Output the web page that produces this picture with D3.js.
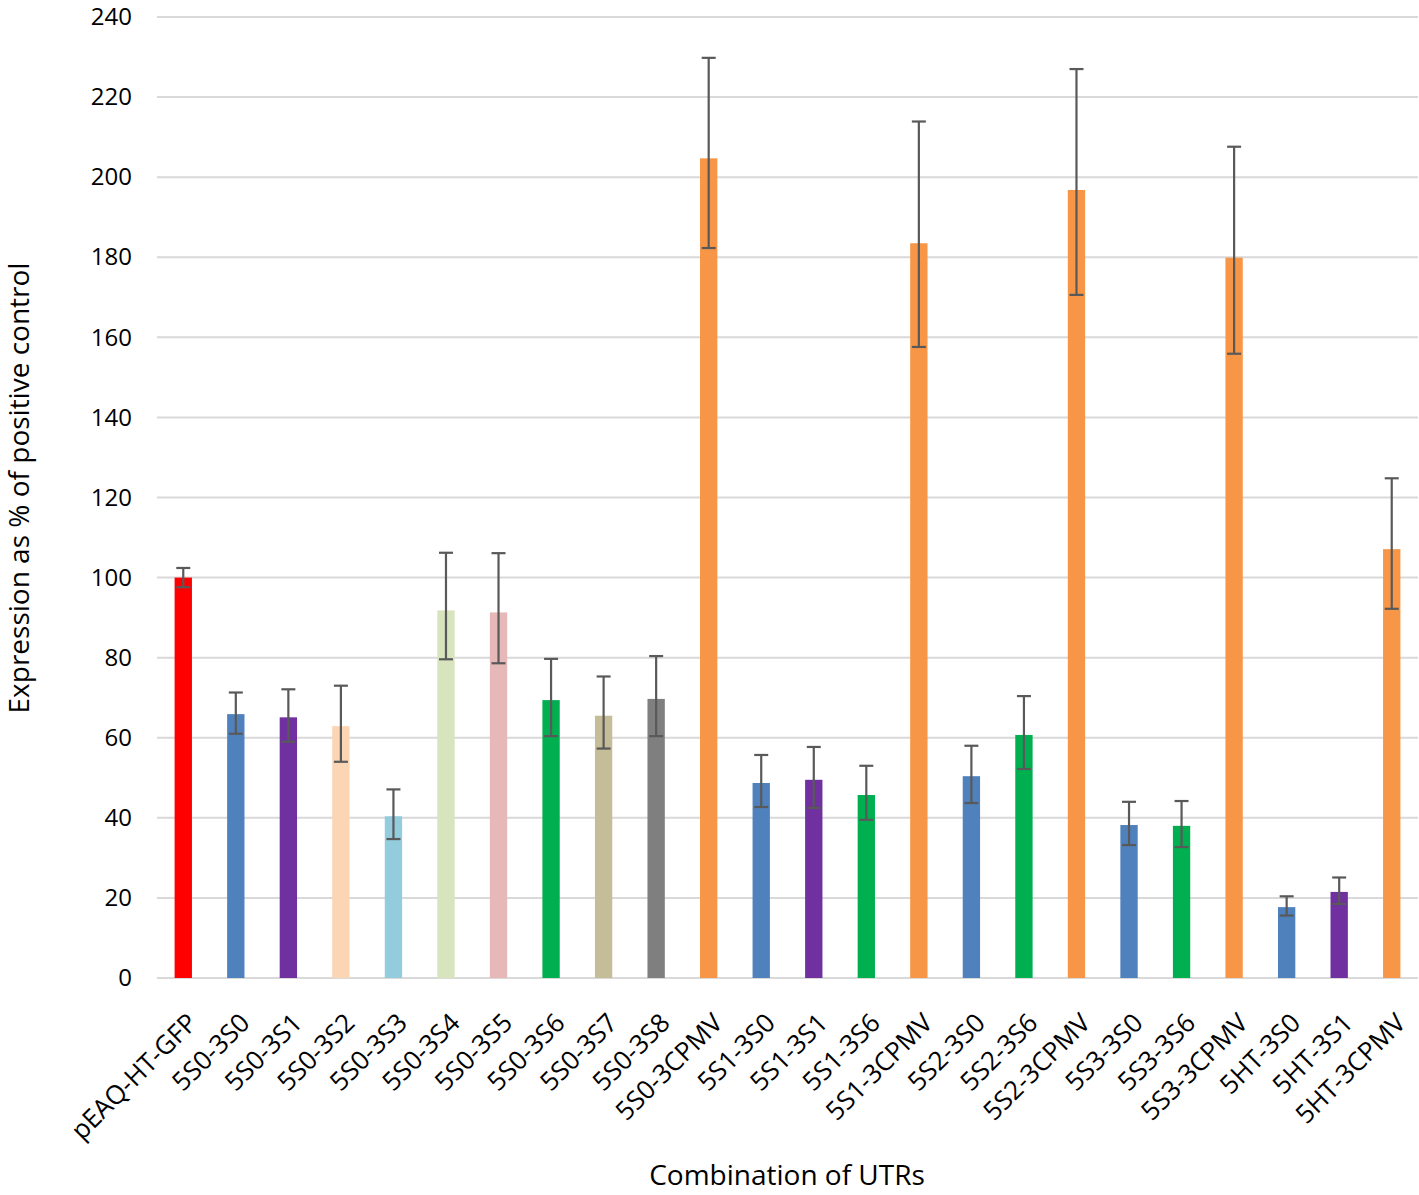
<html>
  <head>
    <script src="https://cdn.jsdelivr.net/npm/d3@7"></script>
    <style>
      body { margin: 0; background: #fff; }
      text { font-family: "Open Sans", sans-serif; fill: #000; }
    </style>
  </head>
  <body>
    <script>
      const categories = ["pEAQ-HT-GFP", "5S0-3S0", "5S0-3S1", "5S0-3S2", "5S0-3S3", "5S0-3S4",
        "5S0-3S5", "5S0-3S6", "5S0-3S7", "5S0-3S8", "5S0-3CPMV", "5S1-3S0", "5S1-3S1", "5S1-3S6",
        "5S1-3CPMV", "5S2-3S0", "5S2-3S6", "5S2-3CPMV", "5S3-3S0", "5S3-3S6", "5S3-3CPMV",
        "5HT-3S0", "5HT-3S1", "5HT-3CPMV"];
      const values = [100, 65.9, 65.1, 62.9, 40.4, 91.8, 91.3, 69.4, 65.5, 69.7, 204.7, 48.7, 49.5, 45.7,
        183.5, 50.4, 60.7, 196.8, 38.2, 38, 179.9, 17.7, 21.5, 107.1];
      // error bars above and below each bar
      const errUp = [2.4, 5.4, 7, 10.1, 6.7, 14.4, 14.8, 10.3, 9.8, 10.7, 25.1, 7, 8.2, 7.3,
        30.4, 7.6, 9.7, 30.2, 5.8, 6.2, 27.7, 2.7, 3.6, 17.7];
      const errDown = [2.4, 4.9, 6.1, 8.9, 5.7, 12.2, 12.7, 9, 8.2, 9.3, 22.4, 6, 7, 6.2,
        25.9, 6.7, 8.5, 26.2, 5, 5.3, 24, 2.1, 3, 14.9];
      const colors = ["#FF0000", "#4F81BD", "#7030A0", "#FCD5B5", "#93CDDD", "#D7E4BD", "#E6B9B8",
        "#00B050", "#C4BD97", "#7F7F7F", "#F79646", "#4F81BD", "#7030A0", "#00B050", "#F79646",
        "#4F81BD", "#00B050", "#F79646", "#4F81BD", "#00B050", "#F79646", "#4F81BD", "#7030A0",
        "#F79646"];
      const yTicks = d3.range(0, 241, 20);

      const width = 1419, height = 1195;
      const plotLeft = 157, plotRight = 1418, plotTop = 17, plotBottom = 978;

      const svg = d3.select("body").append("svg")
          .attr("width", width)
          .attr("height", height);

      const x = d3.scaleBand()
          .domain(categories)
          .range([plotLeft, plotRight])
          .paddingInner(0.67)
          .paddingOuter(0.335);

      const y = d3.scaleLinear()
          .domain([0, 240])
          .range([plotBottom, plotTop]);

      // gridlines
      svg.append("g")
          .selectAll("line")
          .data(yTicks)
          .join("line")
          .attr("x1", plotLeft)
          .attr("x2", plotRight)
          .attr("y1", d => y(d))
          .attr("y2", d => y(d))
          .attr("stroke", "#d9d9d9")
          .attr("stroke-width", 2);

      // y axis labels
      const yAxis = svg.append("g")
          .attr("transform", `translate(${plotLeft - 25},0)`)
          .call(d3.axisLeft(y).tickValues(yTicks).tickSize(0).tickPadding(0));
      yAxis.select(".domain").remove();
      yAxis.selectAll("text")
          .style("font-family", "'Open Sans', sans-serif")
          .style("font-size", "24px")
          .attr("fill", "#000");

      // bars
      svg.append("g")
          .selectAll("rect")
          .data(categories)
          .join("rect")
          .attr("x", d => x(d))
          .attr("width", x.bandwidth())
          .attr("y", (d, i) => y(values[i]))
          .attr("height", (d, i) => y(0) - y(values[i]))
          .attr("fill", (d, i) => colors[i]);

      // error bars
      const eb = svg.append("g")
          .attr("stroke", "#595959")
          .attr("stroke-width", 2.2);
      const cx = d => x(d) + x.bandwidth() / 2;
      eb.append("g").selectAll("line")
          .data(categories)
          .join("line")
          .attr("x1", cx).attr("x2", cx)
          .attr("y1", (d, i) => y(values[i] + errUp[i]))
          .attr("y2", (d, i) => y(values[i] - errDown[i]));
      [(v, i) => v + errUp[i], (v, i) => v - errDown[i]].forEach(f => {
        eb.append("g").selectAll("line")
            .data(categories)
            .join("line")
            .attr("x1", d => cx(d) - 7).attr("x2", d => cx(d) + 7)
            .attr("y1", (d, i) => y(f(values[i], i)))
            .attr("y2", (d, i) => y(f(values[i], i)));
      });

      // x axis labels
      const xAxis = svg.append("g")
          .attr("transform", `translate(0,${plotBottom})`)
          .call(d3.axisBottom(x).tickSize(0).tickPadding(0));
      xAxis.select(".domain").remove();
      xAxis.selectAll("text")
          .style("font-family", "'Open Sans', sans-serif")
          .style("font-size", "26px")
          .attr("fill", "#000")
          .attr("text-anchor", "end")
          .attr("dy", "0.35em")
          .attr("transform", "translate(9,40) rotate(-45)");

      svg.append("text")
          .attr("x", 787)
          .attr("y", 1185)
          .attr("text-anchor", "middle")
          .style("font-size", "28px")
          .text("Combination of UTRs");

      svg.append("text")
          .attr("transform", "translate(29,488) rotate(-90)")
          .attr("text-anchor", "middle")
          .style("font-size", "28px")
          .text("Expression as % of positive control");
    </script>
  </body>
</html>
